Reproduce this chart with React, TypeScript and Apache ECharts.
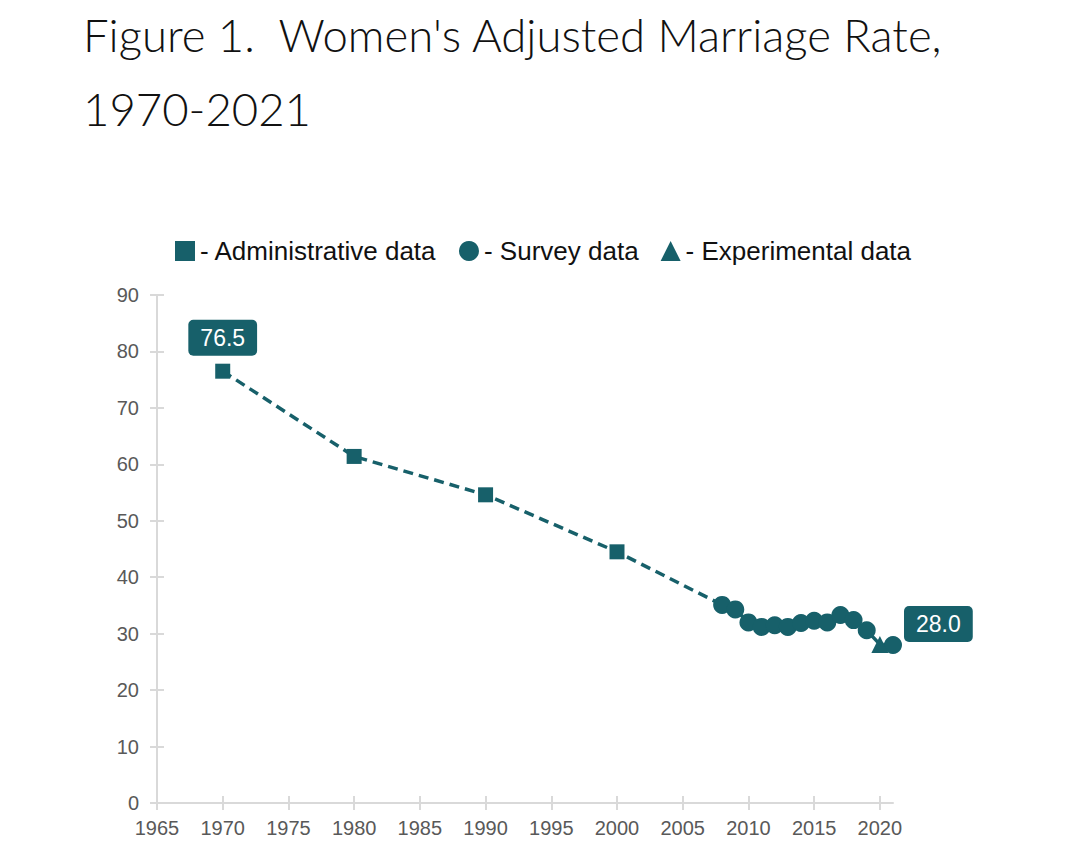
import React, { useEffect, useRef } from "react";
import * as echarts from "echarts";

const adminYears = [1970, 1980, 1990, 2000];
const adminValues = [76.5, 61.4, 54.6, 44.5];
const surveyYears = [2008, 2009, 2010, 2011, 2012, 2013, 2014, 2015, 2016, 2017, 2018, 2019, 2021];
const surveyValues = [35.1, 34.3, 32.0, 31.2, 31.5, 31.2, 31.9, 32.3, 32.0, 33.3, 32.4, 30.6, 28.0];
const experimentalYears = [2020];
const experimentalValues = [28.1];
const xTicks = [1965, 1970, 1975, 1980, 1985, 1990, 1995, 2000, 2005, 2010, 2015, 2020];

const TEAL = "#17606a";
const SANS = "Liberation Sans, Arial, sans-serif";

export default function App() {
  const ref = useRef<HTMLDivElement>(null);
  useEffect(() => {
    const chart = echarts.init(ref.current!, null, { renderer: "svg" });
    const all: [number, number][] = [];
    adminYears.forEach((y, i) => all.push([y, adminValues[i]]));
    surveyYears.forEach((y, i) => all.push([y, surveyValues[i]]));
    experimentalYears.forEach((y, i) => all.push([y, experimentalValues[i]]));
    all.sort((a, b) => a[0] - b[0]);
    const labelStyle = {
      show: true,
      backgroundColor: TEAL,
      color: "#ffffff",
      borderRadius: 5,
      padding: [7, 12, 6, 12],
      fontSize: 23,
      fontFamily: SANS,
      formatter: (v: any) => v.value[1].toFixed(1),
    };
    const adminData = adminYears.map((y, i) =>
      y === 1970
        ? { value: [y, adminValues[i]], label: { ...labelStyle, position: "top", distance: 8 } }
        : { value: [y, adminValues[i]] }
    );
    const surveyData = surveyYears.map((y, i) =>
      y === 2021
        ? { value: [y, surveyValues[i]], label: { ...labelStyle, position: "right", distance: 2, offset: [0, -21] } }
        : { value: [y, surveyValues[i]] }
    );
    const axisFont = { color: "#595959", fontSize: 20, fontFamily: SANS };
    const grey = { color: "#d9d9d9", width: 2 };
    chart.setOption({
      animation: false,
      title: {
        text: "Figure 1.  Women's Adjusted Marriage Rate,\n1970-2021",
        left: 70,
        top: -16,
        textStyle: {
          fontFamily: "Lato, Open Sans, sans-serif",
          fontWeight: 300,
          fontSize: 45.5,
          lineHeight: 74,
          color: "#111111",
        },
      },
      legend: {
        top: 225,
        left: 162,
        itemGap: 22,
        itemWidth: 20,
        itemHeight: 20,
        data: [
          { name: "Administrative data", icon: "rect" },
          { name: "Survey data", icon: "circle" },
          { name: "Experimental data", icon: "triangle" },
        ],
        formatter: (n: string) => "- " + n,
        textStyle: { fontSize: 26, color: "#111111", fontFamily: SANS },
      },
      grid: { left: 149, right: 179, top: 287, bottom: 48, containLabel: false },
      xAxis: [
        {
          type: "value",
          min: 1965,
          max: 2021,
          interval: 5,
          splitLine: { show: false },
          axisLine: { show: true, lineStyle: grey },
          axisTick: { show: true, length: 7, lineStyle: grey, customValues: xTicks },
          axisLabel: { ...axisFont, margin: 15, customValues: xTicks, formatter: (v: number) => String(v) },
        },
        {
          type: "value",
          position: "bottom",
          min: 1965,
          max: 2021,
          interval: 5,
          splitLine: { show: false },
          axisLine: { show: false },
          axisTick: { show: true, inside: true, length: 7, lineStyle: grey, customValues: xTicks },
          axisLabel: { show: false },
        },
      ],
      yAxis: [
        {
          type: "value",
          min: 0,
          max: 90,
          interval: 10,
          splitLine: { show: false },
          axisLine: { show: true, lineStyle: grey },
          axisTick: { show: true, length: 7, lineStyle: grey },
          axisLabel: { ...axisFont, margin: 18 },
        },
        {
          type: "value",
          position: "left",
          min: 0,
          max: 90,
          interval: 10,
          splitLine: { show: false },
          axisLine: { show: false },
          axisTick: { show: true, inside: true, length: 7, lineStyle: grey },
          axisLabel: { show: false },
        },
      ],
      series: [
        {
          type: "line",
          name: "line",
          data: all,
          symbol: "none",
          lineStyle: { color: TEAL, width: 3.5, type: [10, 6] },
          itemStyle: { color: TEAL },
          z: 2,
        },
        {
          type: "scatter",
          name: "Administrative data",
          symbol: "rect",
          symbolSize: 15,
          itemStyle: { color: TEAL, opacity: 1 },
          data: adminData,
          z: 3,
        },
        {
          type: "scatter",
          name: "Survey data",
          symbol: "circle",
          symbolSize: 18,
          itemStyle: { color: TEAL, opacity: 1 },
          data: surveyData,
          z: 3,
        },
        {
          type: "scatter",
          name: "Experimental data",
          symbol: "triangle",
          symbolSize: 17,
          itemStyle: { color: TEAL, opacity: 1 },
          data: experimentalYears.map((y, i) => [y, experimentalValues[i]]),
          z: 3,
        },
      ],
    });
    return () => chart.dispose();
  }, []);
  return <div ref={ref} style={{ width: 1064, height: 843 }} />;
}
